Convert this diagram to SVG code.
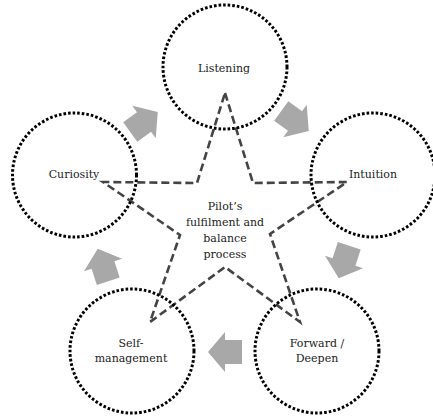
<svg xmlns="http://www.w3.org/2000/svg" width="433" height="416" viewBox="0 0 433 416">
<style>
.c{fill:none;stroke:#000;stroke-width:3;stroke-dasharray:2.6 2}
.t{font-size:11px;fill:#222;text-anchor:middle}
.star{fill:none;stroke:#444;stroke-width:2.6;stroke-dasharray:8 4;stroke-linejoin:miter}
.ar{fill:#a8a8a8}
</style>
<defs>
<polygon id="arrow" points="-17,-12 0,-12 0,-20 17,0 0,20 0,12 -17,12"/>
</defs>
<rect width="433" height="416" fill="#fff"/>
<g id="connectors">
<use href="#arrow" class="ar" transform="translate(144,122) rotate(-36)"/>
<use href="#arrow" class="ar" transform="translate(295,121) rotate(36)"/>
<use href="#arrow" class="ar" transform="translate(344,262) rotate(108)"/>
<use href="#arrow" class="ar" transform="translate(225,352) rotate(180)"/>
<use href="#arrow" class="ar" transform="translate(103,265) rotate(-108)"/>
</g>
<g font-family="'DejaVu Serif','Liberation Serif',serif">
<g id="star">
<polygon class="star" points="225,93 253,183 347,182 270,234 300,322 225,267 150,322 180,235 103,182 197,183"/>
<text class="t" x="225" y="210">Pilot’s</text>
<text class="t" x="225" y="226">fulfilment and</text>
<text class="t" x="225" y="242">balance</text>
<text class="t" x="225" y="258">process</text>
</g>
<g id="listening">
<circle class="c" cx="225" cy="67" r="62"/>
<text class="t" x="224" y="72">Listening</text>
</g>
<g id="intuition">
<circle class="c" cx="373" cy="175" r="62"/>
<text class="t" x="373" y="178">Intuition</text>
</g>
<g id="forward">
<circle class="c" cx="317" cy="351" r="62"/>
<text class="t" x="317" y="347">Forward /</text>
<text class="t" x="317" y="362">Deepen</text>
</g>
<g id="self">
<circle class="c" cx="132" cy="351" r="62"/>
<text class="t" x="131" y="347">Self-</text>
<text class="t" x="131" y="362">management</text>
</g>
<g id="curiosity">
<circle class="c" cx="74.5" cy="175" r="62"/>
<text class="t" x="74" y="178">Curiosity</text>
</g>
</g>
</svg>
